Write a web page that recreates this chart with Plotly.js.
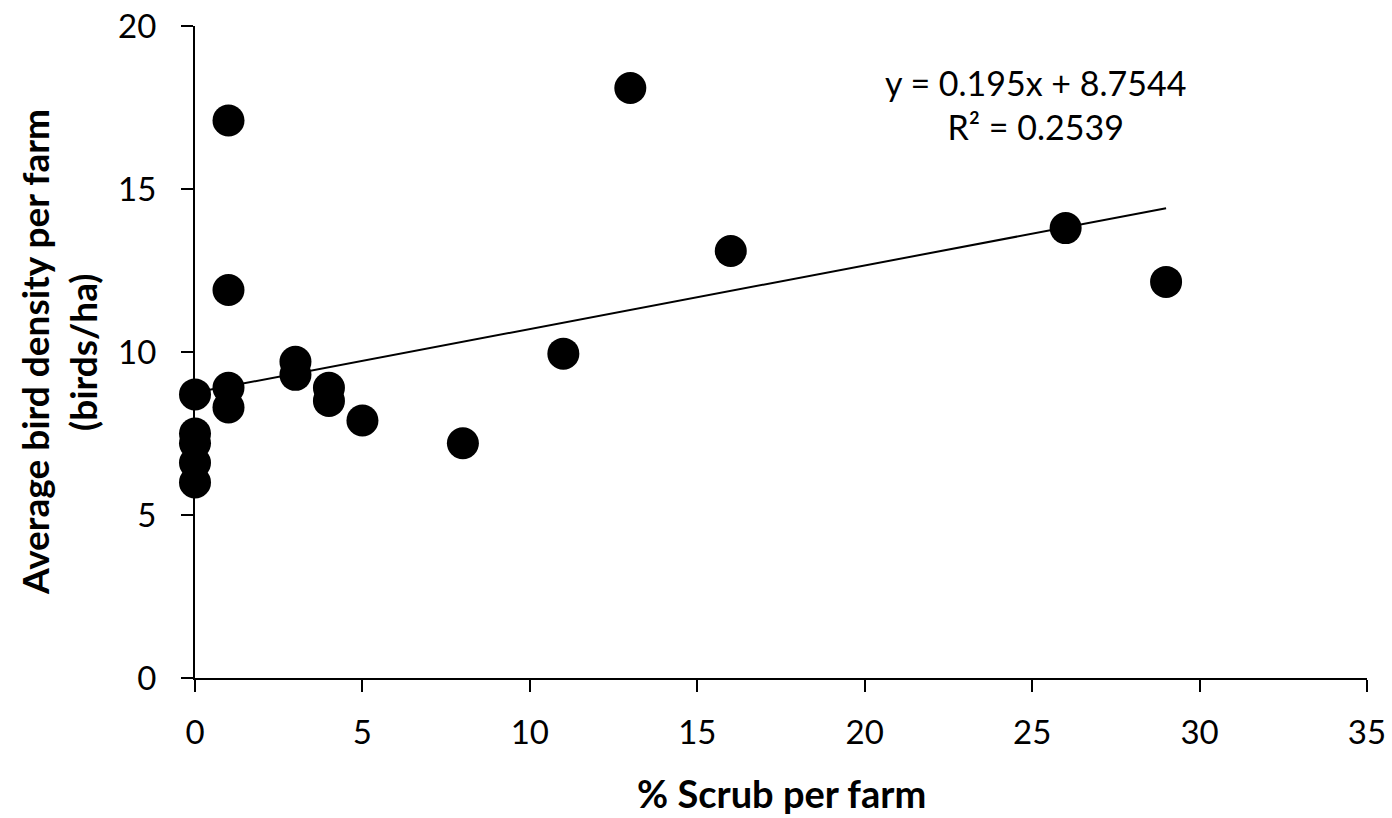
<!DOCTYPE html>
<html><head><meta charset="utf-8">
<script src="https://cdn.plot.ly/plotly-3.0.1.min.js"></script>
<style>html,body{margin:0;padding:0;background:#fff}#chart{width:1392px;height:818px}</style>
</head><body><div id="chart"></div>
<script>
const scrubPct = [0,0,0,0,0,1,1,1,1,3,3,4,4,5,8,11,13,16,26,29];
const birdDensity = [8.7,7.5,7.2,6.6,6.0,17.1,11.9,8.9,8.3,9.7,9.3,8.9,8.5,7.9,7.2,9.95,18.1,13.1,13.8,12.15];
const trendSlope = 0.195;
const trendIntercept = 8.7544;
const trendRange = [0, 29];
const xTicks = [0,5,10,15,20,25,30,35];
const yTicks = [0,5,10,15,20];
const eqText = 'y = 0.195x + 8.7544<br>R² = 0.2539';
const xTitle = '<b>% Scrub per farm</b>';
const yTitleLines = ['<b>Average bird density per farm</b>', '<b>(birds/ha)</b>'];

const font = 'Lato, "Open Sans", sans-serif';
const W = 1392, H = 818, L = 195, R = 25, T = 26, B = 140;
const pw = W - L - R, ph = H - T - B;
const data = [
  {x: trendRange, y: trendRange.map(v => trendSlope*v + trendIntercept), mode:'lines',
   line:{color:'#000', width:2}, hoverinfo:'skip', showlegend:false, cliponaxis:false},
  {x: scrubPct, y: birdDensity, mode:'markers', type:'scatter', cliponaxis:false,
   marker:{color:'#000', size:32, line:{width:0}}, showlegend:false}
];
const axisCommon = {ticks:'outside', ticklen:12, tickwidth:2, tickcolor:'#000',
    showline:true, linecolor:'#000', linewidth:2, showgrid:false, zeroline:false,
    tickfont:{size:33, family:font, color:'#000'}};
const layout = {
  width:W, height:H,
  margin:{l:L, r:R, t:T, b:B},
  paper_bgcolor:'#fff', plot_bgcolor:'#fff',
  font:{family:font, color:'#000', size:24},
  xaxis:Object.assign({range:[0,35], tickvals:xTicks, ticklabelstandoff:12}, axisCommon),
  yaxis:Object.assign({range:[0,20], tickvals:yTicks, ticklabelstandoff:18}, axisCommon),
  annotations:[
    {xref:'paper', yref:'paper', x:(1035-L)/pw, y:(H-B-105)/ph, xanchor:'center', yanchor:'middle',
     text:eqText, showarrow:false, font:{size:34, family:font}, align:'center'},
    {xref:'paper', yref:'paper', x:(781-L)/pw, y:(H-B-793)/ph, xanchor:'center', yanchor:'middle',
     text:xTitle, showarrow:false, font:{size:38, family:font}},
    {xref:'paper', yref:'paper', x:(34-L)/pw, y:0.5, xanchor:'center', yanchor:'middle',
     text:yTitleLines[0], showarrow:false, textangle:-90, font:{size:37, family:font}},
    {xref:'paper', yref:'paper', x:(82-L)/pw, y:0.5, xanchor:'center', yanchor:'middle',
     text:yTitleLines[1], showarrow:false, textangle:-90, font:{size:37, family:font}}
  ]
};
Plotly.newPlot('chart', data, layout, {displayModeBar:false});
</script></body></html>
